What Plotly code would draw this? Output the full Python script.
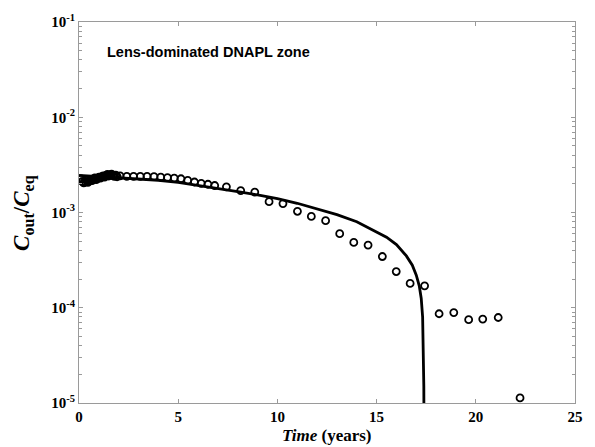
import plotly.graph_objects as go

# Early-time measurements (dense sampling, 0-2 years)
early_t = [0.10, 0.17, 0.24, 0.31, 0.38, 0.45, 0.52, 0.59, 0.66, 0.73, 0.80, 0.87, 0.94,
           1.01, 1.08, 1.15, 1.22, 1.29, 1.36, 1.43, 1.50, 1.57, 1.64, 1.71, 1.78, 1.85, 1.92]
early_c = [2.25e-3, 2.12e-3, 2.05e-3, 2.10e-3, 2.18e-3, 2.08e-3, 2.15e-3, 2.22e-3, 2.17e-3,
           2.25e-3, 2.30e-3, 2.22e-3, 2.28e-3, 2.35e-3, 2.30e-3, 2.38e-3, 2.42e-3, 2.36e-3,
           2.45e-3, 2.50e-3, 2.42e-3, 2.47e-3, 2.52e-3, 2.44e-3, 2.40e-3, 2.46e-3, 2.38e-3]

# Later measurements
obs_t = [2.07, 2.41, 2.75, 3.09, 3.43, 3.78, 4.12, 4.46, 4.80, 5.14, 5.48, 5.82, 6.16, 6.50,
         6.84, 7.43, 8.15, 8.86, 9.58, 10.28, 11.01, 11.71, 12.43, 13.14, 13.85, 14.57,
         15.29, 15.99, 16.69, 17.42, 18.15, 18.89, 19.64, 20.35, 21.13, 22.23]
obs_c = [2.42e-3, 2.40e-3, 2.40e-3, 2.39e-3, 2.39e-3, 2.38e-3, 2.35e-3, 2.32e-3, 2.30e-3,
         2.26e-3, 2.17e-3, 2.09e-3, 2.02e-3, 1.98e-3, 1.92e-3, 1.86e-3, 1.70e-3, 1.64e-3,
         1.30e-3, 1.24e-3, 1.03e-3, 9.1e-4, 8.2e-4, 6.0e-4, 4.85e-4, 4.55e-4, 3.45e-4,
         2.40e-4, 1.80e-4, 1.70e-4, 8.65e-5, 8.9e-5, 7.5e-5, 7.6e-5, 7.9e-5, 1.13e-5]

# Model prediction
model_t = [0, 0.5, 1, 2, 3, 4, 5, 6, 7, 8, 9, 10, 11, 12, 13, 14, 15, 15.5, 16, 16.5,
           16.8, 17.0, 17.15, 17.25, 17.32, 17.36, 17.38, 17.39]
model_c = [2.45e-3, 2.42e-3, 2.39e-3, 2.33e-3, 2.26e-3, 2.18e-3, 2.07e-3, 1.93e-3, 1.80e-3,
           1.66e-3, 1.53e-3, 1.40e-3, 1.25e-3, 1.10e-3, 9.5e-4, 8.0e-4, 6.3e-4, 5.5e-4,
           4.6e-4, 3.5e-4, 2.8e-4, 2.2e-4, 1.7e-4, 1.25e-4, 8e-5, 4e-5, 1.5e-5, 5e-6]

x_ticks = [0, 5, 10, 15, 20, 25]
y_ticks = [1e-5, 1e-4, 1e-3, 1e-2, 1e-1]
y_ticktext = ["10<sup>-5</sup>", "10<sup>-4</sup>", "10<sup>-3</sup>",
              "10<sup>-2</sup>", "10<sup>-1</sup>"]
y_minor = [m * 10.0 ** e for e in range(-5, -1) for m in range(2, 10)]

serif = "Liberation Serif"
axis_grey = "#9a9a9a"

fig = go.Figure()
fig.add_trace(go.Scatter(
    x=early_t, y=early_c, mode="markers",
    marker=dict(symbol="circle-open", size=7, color="black", line=dict(width=2, color="black")),
    showlegend=False))
fig.add_trace(go.Scatter(
    x=obs_t, y=obs_c, mode="markers",
    marker=dict(symbol="circle-open", size=7, color="black", line=dict(width=1.8, color="black")),
    showlegend=False))
fig.add_trace(go.Scatter(
    x=model_t, y=model_c, mode="lines",
    line=dict(color="black", width=2.8),
    showlegend=False))

fig.update_layout(
    width=595, height=447,
    margin=dict(l=79, r=17, t=22, b=44),
    paper_bgcolor="white", plot_bgcolor="white",
    font=dict(family=serif, color="black"),
    xaxis=dict(
        range=[0, 25], tickvals=x_ticks, ticks="inside", ticklen=4,
        tickcolor=axis_grey, showline=True, linecolor=axis_grey, linewidth=1.2,
        mirror="ticks", showgrid=False, zeroline=False,
        tickfont=dict(family=serif, size=15, weight="bold"),
    ),
    yaxis=dict(
        type="log", range=[-5, -1], tickvals=y_ticks, ticktext=y_ticktext,
        ticks="inside", ticklen=4, tickcolor=axis_grey,
        showline=True, linecolor=axis_grey, linewidth=1.2, mirror="ticks",
        showgrid=False, zeroline=False,
        minor=dict(tickvals=y_minor, ticks="inside", ticklen=2.5, tickcolor=axis_grey),
        tickfont=dict(family=serif, size=15, weight="bold"),
    ),
    annotations=[
        dict(text="Lens-dominated DNAPL zone", x=0.052, y=0.921, xref="paper", yref="paper",
             xanchor="left", yanchor="middle", showarrow=False,
             font=dict(family="Liberation Sans", size=14.5, weight="bold", color="black")),
        dict(text="<i>Time</i> (years)", x=0.5, xref="paper", y=-0.084, yref="paper",
             xanchor="center", yanchor="middle", showarrow=False,
             font=dict(family=serif, size=17, weight="bold")),
        dict(text="<i>C</i><sub>out</sub>/<i>C</i><sub>eq</sub>", textangle=-90,
             x=-0.112, xref="paper", y=0.5, yref="paper",
             xanchor="center", yanchor="middle", showarrow=False,
             font=dict(family=serif, size=23, weight="bold")),
    ],
)

fig.write_html("out.html")
